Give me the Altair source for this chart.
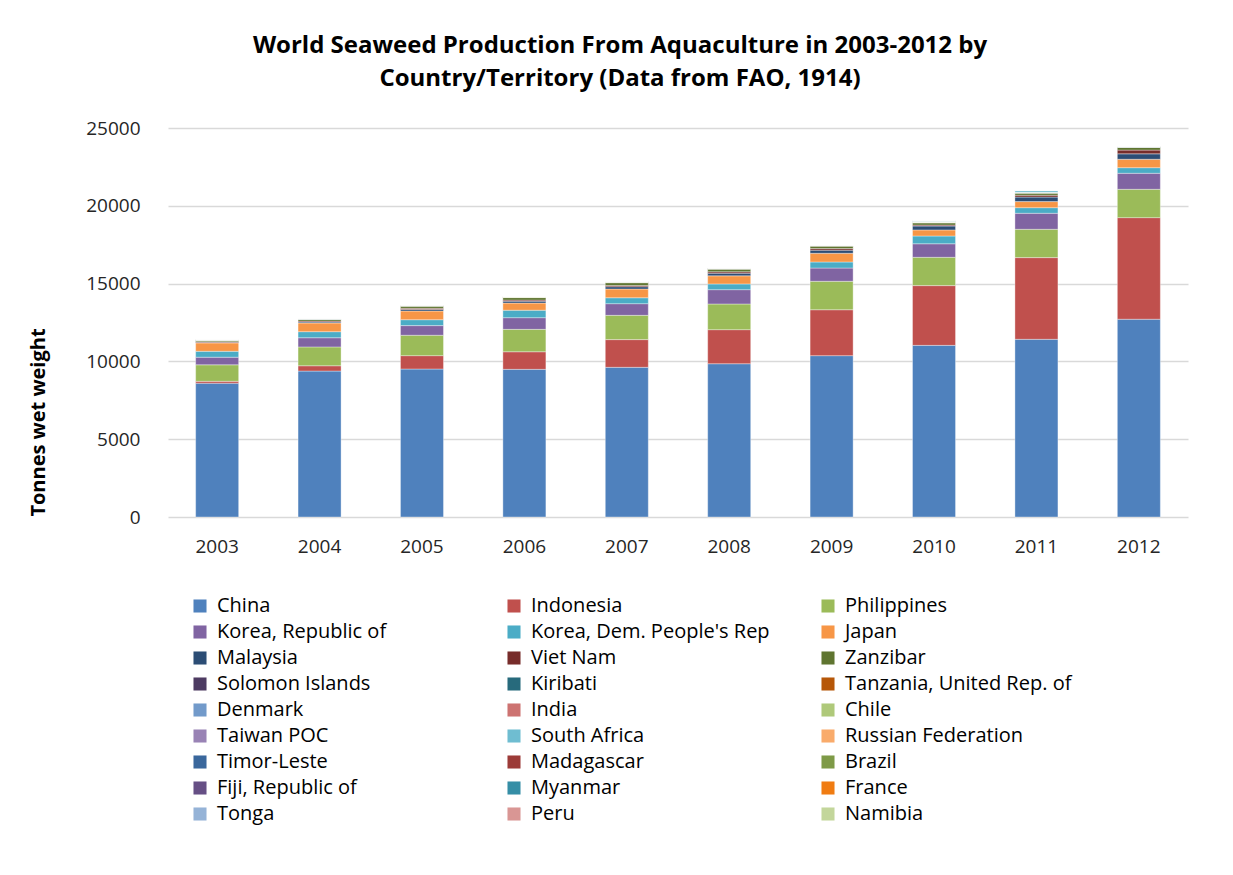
import altair as alt
import pandas as pd

years = ["2003", "2004", "2005", "2006", "2007", "2008", "2009", "2010", "2011", "2012"]

countries = [
    "China", "Indonesia", "Philippines",
    "Korea, Republic of", "Korea, Dem. People's Rep", "Japan",
    "Malaysia", "Viet Nam", "Zanzibar",
    "Solomon Islands", "Kiribati", "Tanzania, United Rep. of",
    "Denmark", "India", "Chile",
    "Taiwan POC", "South Africa", "Russian Federation",
    "Timor-Leste", "Madagascar", "Brazil",
    "Fiji, Republic of", "Myanmar", "France",
    "Tonga", "Peru", "Namibia",
]

colors = [
    "#4F81BD", "#C0504D", "#9BBB59",
    "#8064A2", "#4BACC6", "#F79646",
    "#2C4D75", "#772C2A", "#5F7530",
    "#4D3B62", "#276A7C", "#B65708",
    "#729ACA", "#CD7371", "#AFC97A",
    "#9983B5", "#6FBDD1", "#F9AB6B",
    "#3A679C", "#9C3B38", "#7E9A47",
    "#664F85", "#358EA6", "#F07C12",
    "#95B3D7", "#D99694", "#C3D69B",
]

china       = [8600, 9380, 9510, 9490, 9620, 9850, 10370, 11030, 11420, 12710]
indonesia   = [120, 340, 860, 1130, 1780, 2190, 2950, 3840, 5250, 6530]
philippines = [1060, 1210, 1310, 1440, 1560, 1650, 1830, 1820, 1820, 1820]
korea_rep   = [490, 590, 620, 750, 750, 920, 850, 870, 1030, 1030]
korea_dpr   = [380, 390, 380, 480, 380, 370, 390, 500, 360, 360]
japan       = [540, 560, 560, 460, 560, 520, 560, 390, 390, 540]
malaysia    = [30, 60, 100, 120, 150, 170, 200, 250, 290, 350]
viet_nam    = [50, 60, 70, 70, 80, 90, 100, 60, 120, 240]
zanzibar    = [90, 120, 150, 160, 180, 180, 170, 150, 140, 180]
solomon     = [3, 4, 5, 5, 6, 6, 6, 7, 7, 8]
kiribati    = [10, 12, 8, 6, 5, 6, 5, 8, 9, 8]
tanzania    = [6, 7, 7, 8, 8, 10, 10, 12, 13, 15]
denmark     = [1, 1, 1, 1, 1, 1, 1, 1, 1, 1]
india       = [3, 3, 4, 4, 5, 5, 4, 4, 5, 5]
chile       = [20, 20, 25, 30, 25, 20, 15, 12, 10, 10]
taiwan      = [10, 12, 10, 12, 12, 10, 10, 10, 12, 12]
south_africa = [3, 3, 3, 3, 3, 3, 3, 70, 120, 3]
russia      = [1, 1, 1, 1, 1, 1, 1, 1, 1, 1]
timor       = [0, 0, 0, 0, 0, 1, 1, 1, 2, 2]
madagascar  = [1, 1, 2, 2, 2, 3, 3, 4, 4, 4]
brazil      = [0.5, 0.5, 0.5, 0.5, 0.5, 0.5, 0.5, 0.5, 0.5, 0.5]
fiji        = [0.5, 0.5, 0.5, 0.5, 0.5, 0.5, 0.5, 0.5, 0.5, 0.5]
myanmar     = [0, 0, 0, 0, 0, 0, 0, 1, 1, 1]
france      = [0.1, 0.1, 0.1, 0.1, 0.1, 0.1, 0.1, 0.1, 0.1, 0.1]
tonga       = [0, 0, 0, 0.1, 0.1, 0.1, 0.1, 0.1, 0.1, 0.1]
peru        = [0.1, 0.1, 0.1, 0.1, 0.1, 0.1, 0.1, 0.1, 0.1, 0.1]
namibia     = [0.1, 0.1, 0.1, 0.1, 0.1, 0.1, 0.1, 0.1, 0.1, 0.1]

series = [china, indonesia, philippines, korea_rep, korea_dpr, japan,
          malaysia, viet_nam, zanzibar, solomon, kiribati, tanzania,
          denmark, india, chile, taiwan, south_africa, russia,
          timor, madagascar, brazil, fiji, myanmar, france,
          tonga, peru, namibia]

rows = []
for i, (c, vals) in enumerate(zip(countries, series)):
    for y, v in zip(years, vals):
        rows.append({"Year": y, "Country": c, "Value": v, "idx": i})
df = pd.DataFrame(rows)

FONT = "Open Sans"

chart = alt.Chart(df).mark_bar(
    stroke="#FFFFFF", strokeWidth=0.6, strokeOpacity=0.6
).encode(
    x=alt.X("Year:N", sort=years,
            scale=alt.Scale(paddingInner=0.58, paddingOuter=0.27),
            axis=alt.Axis(title=None, labelAngle=0, ticks=False, domain=False,
                          labelFontSize=19, labelColor="#262626", labelPadding=20,
                          labelFont=FONT)),
    y=alt.Y("Value:Q", stack="zero",
            scale=alt.Scale(domain=[0, 25000], nice=False),
            axis=alt.Axis(title="Tonnes wet weight", values=[0, 5000, 10000, 15000, 20000, 25000],
                          format="d", ticks=False, domain=False,
                          labelFontSize=19, labelColor="#262626", labelPadding=28,
                          labelFont=FONT, titleFont=FONT, titleFontSize=20,
                          titleFontWeight="bold", titleColor="#000000",
                          titleX=-130, titleY=294, titleAlign="center",
                          titleBaseline="middle", titleAngle=270,
                          gridColor="#D9D9D9", gridWidth=1.5)),
    color=alt.Color("Country:N",
                    scale=alt.Scale(domain=countries, range=colors),
                    legend=alt.Legend(title=None, orient="none", legendX=22, legendY=468,
                                      direction="horizontal",
                                      columns=3, gridAlign="all", columnPadding=48,
                                      symbolType="square", symbolSize=170,
                                      symbolStrokeWidth=0, labelFontSize=20,
                                      labelFont=FONT, labelColor="#000000",
                                      labelOffset=7, rowPadding=6, labelLimit=400)),
    order=alt.Order("idx:Q", sort="ascending"),
).properties(
    width=1020,
    height=389,
    padding={"left": 168, "top": 128, "right": 45, "bottom": 358},
    autosize=alt.AutoSizeParams(type="none"),
    title=alt.TitleParams(
        text=["World Seaweed Production From Aquaculture in 2003-2012 by",
              "Country/Territory (Data from FAO, 1914)"],
        font=FONT, fontSize=24, fontWeight="bold", color="#000000",
        anchor="middle", dx=-58, offset=28, lineHeight=33,
    ),
).configure_view(stroke=None)

chart.save("out.html", embed_options={"renderer": "svg", "actions": False})
